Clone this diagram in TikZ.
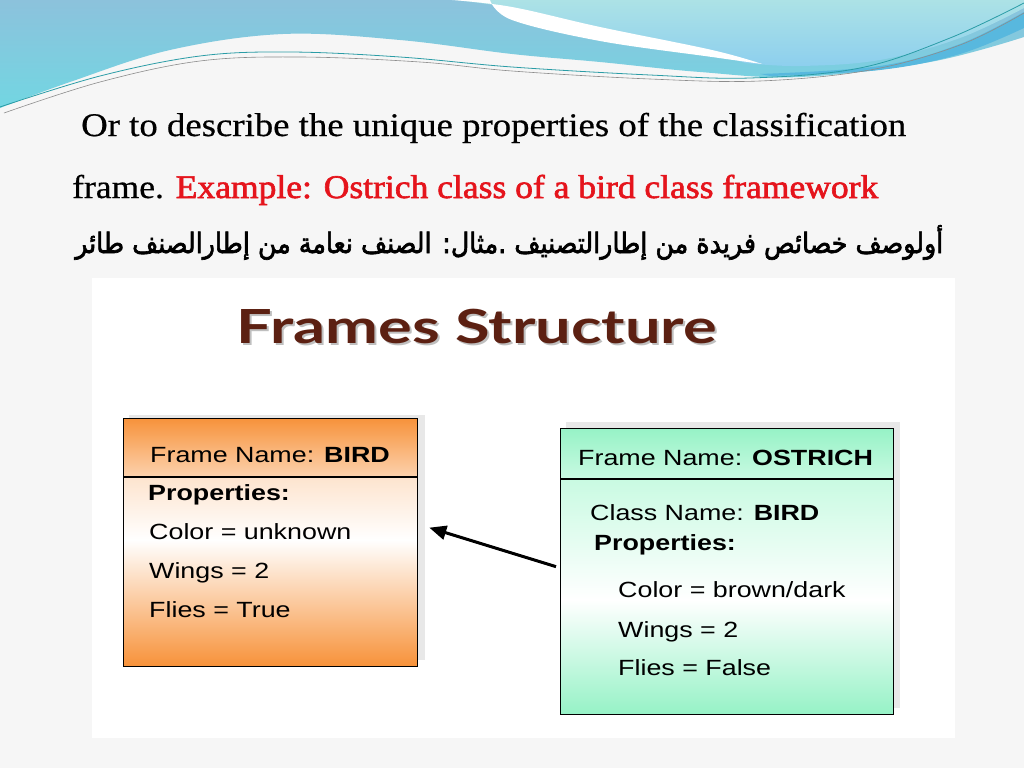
\documentclass[tikz,border=0pt]{standalone}
\usepackage{fontspec}
\usepackage{graphicx}
\usetikzlibrary{arrows.meta}
\TeXXeTstate=1
\setmainfont{Liberation Serif}
\newfontfamily\titlefont[FakeBold=0.5]{Liberation Serif}
\newfontfamily\redfont[FakeBold=1.8]{Liberation Serif}
\newfontfamily\boxfont{Liberation Sans}
\newfontfamily\headfont{Lato}
\newfontfamily\arabicfont[Script=Arabic,FakeBold=2.4]{DejaVu Sans}
\definecolor{bgcol}{HTML}{F6F6F6}
\definecolor{exred}{HTML}{E5141C}
\definecolor{fsbrown}{HTML}{5C2012}
\definecolor{orng}{HTML}{F7923A}
\definecolor{orngl}{HTML}{FCD2AE}
\definecolor{grn}{HTML}{96F2C6}
\definecolor{grnl}{HTML}{C9FAE2}
\definecolor{blueA}{HTML}{8CC2DC}
\definecolor{blueB}{HTML}{72D6E2}
\definecolor{cyanA}{HTML}{ACE2E6}
\definecolor{cyanB}{HTML}{8DCFEE}
\definecolor{streak}{HTML}{58B8DE}
\definecolor{tealline}{HTML}{2A9CA6}
\newcommand\bx[1]{\scalebox{1.22}[1]{#1}}
\tikzset{
  boxtext/.style={anchor=base west, inner sep=0pt, font=\boxfont\fontsize{22}{26}\selectfont},
  frame/.style={draw=black, line width=1.3pt, inner sep=0pt, anchor=north west},
  divider/.style={line width=2.6pt},
  link/.style={line width=3pt, -{Triangle[length=17pt,width=14pt]}},
}
\begin{document}
\begin{tikzpicture}[x=1pt,y=-1pt]
\useasboundingbox (0,0) rectangle (1024,768);
\fill[bgcol] (0,0) rectangle (1024,768);
% top wave
\shade[top color=blueA, bottom color=blueB] (0,0) -- (1024,0) -- plot[smooth, tension=0.6] coordinates {(1024,37) (930,62) (800,77) (700,72) (600,62) (512,54) (400,40) (283,34) (170,50) (70,82) (0,108)} -- cycle;
\fill[streak] plot[smooth, tension=0.6] coordinates {(760,74) (880,66) (960,44) (1024,12)} -- (1024,28) -- plot[smooth, tension=0.6] coordinates {(1024,28) (960,54) (880,70) (770,76)} -- cycle;
\shade[top color=cyanA, bottom color=cyanB] (455,0) -- (1024,0) -- plot[smooth, tension=0.6] coordinates {(1024,8) (960,38) (880,60) (800,66) (745,63)} -- plot[smooth, tension=0.6] coordinates {(745,63) (700,50) (600,28) (512,8) (455,0)} -- cycle;
\fill[white] plot[smooth, tension=0.6] coordinates {(452,0) (512,7) (600,27) (712,50) (762,64)} -- plot[smooth, tension=0.6] coordinates {(762,64) (712,57) (600,41) (512,20) (490,0)} -- cycle;
\draw[tealline, line width=0.8pt] plot[smooth, tension=0.6] coordinates {(0,107) (100,76) (200,56) (290,52) (400,57) (512,67) (650,75) (750,78) (860,68) (950,38) (1024,3)};
\draw[black!45, line width=0.6pt] plot[smooth, tension=0.6] coordinates {(4,113) (100,82) (200,61) (300,57) (420,62) (512,71) (650,79) (760,81) (870,70) (960,45) (1024,13)};
% headings
\node[anchor=base west, inner sep=0pt] (line1) at (81,136) {\resizebox{825pt}{\height}{\titlefont\fontsize{33}{38}\selectfont Or to describe the unique properties of the classification}};
\node[anchor=base west, inner sep=0pt] (line2) at (72,198) {\resizebox{806pt}{\height}{\titlefont\fontsize{33}{38}\selectfont frame. \redfont\textcolor{exred}{Example: Ostrich class of a bird class framework}}};
\node[anchor=base west, inner sep=0pt] (arline) at (75,253) {\resizebox{868pt}{\height}{\arabicfont\fontsize{28}{32}\selectfont\beginR أولوصف خصائص فريدة من إطارالتصنيف .مثال: الصنف نعامة من إطارالصنف طائر\endR}};
% picture panel
\fill[white] (92,278) rectangle (955,738);
\node[anchor=base, inner sep=0pt, text=black!25] (fss) at (479,345) {\resizebox{480pt}{\height}{\headfont\bfseries\fontsize{47}{50}\selectfont Frames Structure}};
\node[anchor=base, inner sep=0pt, text=fsbrown] (fs) at (477,343) {\resizebox{480pt}{\height}{\headfont\bfseries\fontsize{47}{50}\selectfont Frames Structure}};
% BIRD frame
\fill[black!9] (129,415) rectangle (425,660);
\shade[top color=orng, bottom color=orngl] (123,418) rectangle (417,477);
\shade[top color=orngl!60, bottom color=white] (123,477) rectangle (417,540);
\shade[top color=white, bottom color=orng] (123,540) rectangle (417,666);
\node[frame, minimum width=294pt, minimum height=248pt] (bird) at (123,418) {};
\draw[divider] (bird.west |- 0,477) -- (bird.east |- 0,477);
\node[boxtext] (b1) at (150,462) {\bx{Frame Name: \textbf{BIRD}}};
\node[boxtext] (b2) at (148,500) {\bx{\textbf{Properties:}}};
\node[boxtext] (b3) at (149,539) {\bx{Color = unknown}};
\node[boxtext] (b4) at (149,578) {\bx{Wings = 2}};
\node[boxtext] (b5) at (149,617) {\bx{Flies = True}};
% OSTRICH frame
\fill[black!9] (566,422) rectangle (900,708);
\shade[top color=grn, bottom color=grnl] (560,428) rectangle (893,479);
\shade[top color=grnl, bottom color=white] (560,479) rectangle (893,600);
\shade[top color=white, bottom color=grn] (560,600) rectangle (893,714);
\node[frame, minimum width=333pt, minimum height=286pt] (ostrich) at (560,428) {};
\draw[divider] (ostrich.west |- 0,479) -- (ostrich.east |- 0,479);
\node[boxtext] (o1) at (578,465) {\bx{Frame Name: \textbf{OSTRICH}}};
\node[boxtext] (o2) at (590,520) {\bx{Class Name: \textbf{BIRD}}};
\node[boxtext] (o3) at (594,550) {\bx{\textbf{Properties:}}};
\node[boxtext] (o4) at (618,597) {\bx{Color = brown/dark}};
\node[boxtext] (o5) at (618,637) {\bx{Wings = 2}};
\node[boxtext] (o6) at (618,675) {\bx{Flies = False}};
% connector
\draw[link] ([shift={(-4,-5)}]ostrich.west) -- ([shift={(11,-15)}]bird.east);
\end{tikzpicture}
\end{document}
